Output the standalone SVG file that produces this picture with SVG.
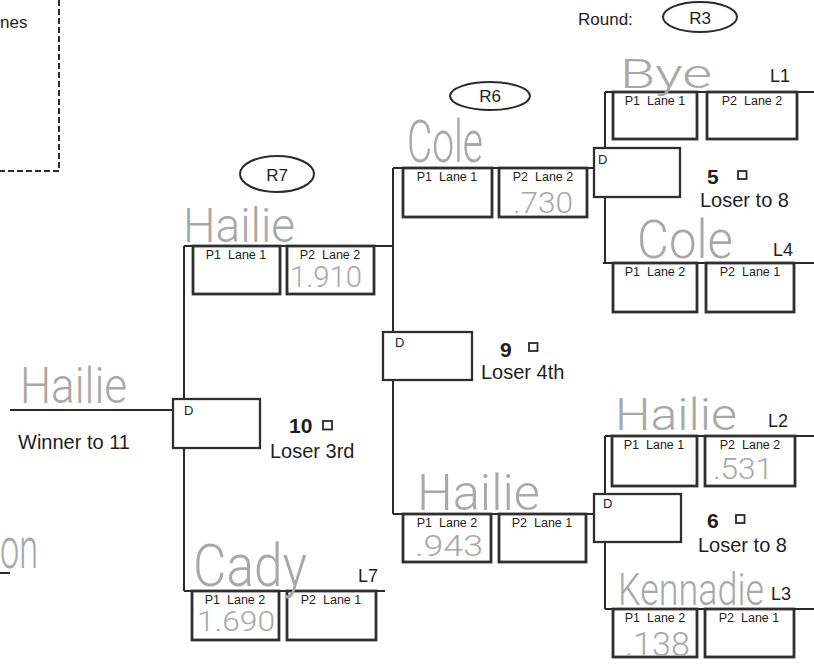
<svg xmlns="http://www.w3.org/2000/svg" width="814" height="665" viewBox="0 0 814 665">
<style>
.bg{fill:#ffffff}
.ln{stroke:#2a2a2a;stroke-width:2;fill:none}
.bx{stroke:#2f2f2f;stroke-width:2.8;fill:#ffffff}
.db{stroke:#2f2f2f;stroke-width:2.3;fill:#ffffff}
.dash{stroke:#2a2a2a;stroke-width:2;fill:none;stroke-dasharray:6 3}
.t{font-family:"Liberation Sans",Arial,sans-serif;fill:#1e1e1e}
.lab{font-size:12.5px;text-anchor:middle;white-space:pre}
.big{font-size:18px}
.mid{font-size:20px}
.num{font-size:21px;font-weight:bold}
.d{font-size:13px}
.hw{font-family:Roboto,"DejaVu Sans",sans-serif;font-weight:300;fill:#a8a8a8}
.chk{stroke:#2a2a2a;stroke-width:1.8;fill:#ffffff}
.ov{stroke:#2a2a2a;stroke-width:2;fill:none}
</style>
<rect class="bg" x="0" y="0" width="814" height="665"/>

<g id="legend">
<path class="dash" d="M59 0 V171 H0"/>
<text class="t" x="0" y="28" font-size="17">nes</text>
</g>

<g id="round-header">
<text class="t" x="578" y="25" font-size="17">Round:</text>
<ellipse class="ov" cx="700" cy="17" rx="37" ry="15"/>
<text class="t" x="700" y="24" font-size="17" text-anchor="middle">R3</text>
</g>

<g id="labels-rounds">
<ellipse class="ov" cx="490" cy="96" rx="40" ry="14"/>
<text class="t" x="490" y="102" font-size="17" text-anchor="middle">R6</text>
<ellipse class="ov" cx="277" cy="174" rx="37" ry="18"/>
<text class="t" x="277" y="181" font-size="17" text-anchor="middle">R7</text>
</g>

<g id="connectors">
<path class="ln" d="M605 92 H814"/>
<path class="ln" d="M605 92 V148 M605 197 V263"/>
<path class="ln" d="M603 263 H814"/>
<path class="ln" d="M393 168 H594"/>
<path class="ln" d="M393 168 V332 M393 380 V514"/>
<path class="ln" d="M393 514 H594"/>
<path class="ln" d="M605 436 H814"/>
<path class="ln" d="M605 436 V494 M605 542 V609"/>
<path class="ln" d="M605 609 H814"/>
<path class="ln" d="M184 246 H393"/>
<path class="ln" d="M184 246 V399 M184 448 V591"/>
<path class="ln" d="M184 591 H385"/>
<path class="ln" d="M10 410 H173"/>
<path class="ln" d="M0 573 H10" stroke-width="1.5"/>
</g>

<g id="match5">
<text class="t big" x="770" y="82">L1</text>
<rect class="bx" x="613" y="92" width="84" height="47"/>
<text class="t lab" x="655" y="105">P1  Lane 1</text>
<rect class="bx" x="707" y="92" width="90" height="47"/>
<text class="t lab" x="752" y="105">P2  Lane 2</text>
<rect class="db" x="594" y="148" width="86" height="49"/>
<text class="t d" x="598" y="164">D</text>
<text class="t num" x="707" y="184">5</text>
<rect class="chk" x="738" y="171" width="8.5" height="8"/>
<text class="t mid" x="700" y="207" font-size="21">Loser to 8</text>
<text class="t big" x="773" y="256">L4</text>
<rect class="bx" x="613" y="263" width="84" height="49"/>
<text class="t lab" x="655" y="276">P1  Lane 2</text>
<rect class="bx" x="706" y="263" width="88" height="49"/>
<text class="t lab" x="750" y="276">P2  Lane 1</text>
</g>

<g id="r6-top">
<rect class="bx" x="403" y="168" width="89" height="49"/>
<text class="t lab" x="447" y="181">P1  Lane 1</text>
<rect class="bx" x="499" y="168" width="88" height="49"/>
<text class="t lab" x="543" y="181">P2  Lane 2</text>
</g>

<g id="match9">
<rect class="db" x="383" y="332" width="89" height="48"/>
<text class="t d" x="395" y="347">D</text>
<text class="t num" x="500" y="357">9</text>
<rect class="chk" x="529" y="343" width="8.5" height="8"/>
<text class="t mid" x="481" y="379">Loser 4th</text>
</g>

<g id="r6-bottom">
<rect class="bx" x="403" y="514" width="88" height="48"/>
<text class="t lab" x="447" y="527">P1  Lane 2</text>
<rect class="bx" x="499" y="514" width="87" height="48"/>
<text class="t lab" x="542" y="527">P2  Lane 1</text>
</g>

<g id="match6">
<text class="t big" x="768" y="427">L2</text>
<rect class="bx" x="612" y="436" width="85" height="50"/>
<text class="t lab" x="654" y="449">P1  Lane 1</text>
<rect class="bx" x="705" y="436" width="90" height="50"/>
<text class="t lab" x="750" y="449">P2  Lane 2</text>
<rect class="db" x="594" y="494" width="87" height="48"/>
<text class="t d" x="603" y="508">D</text>
<text class="t num" x="707" y="528">6</text>
<rect class="chk" x="736" y="515" width="8.5" height="8"/>
<text class="t mid" x="698" y="552" font-size="21">Loser to 8</text>
<text class="t big" x="771" y="600">L3</text>
<rect class="bx" x="613" y="609" width="84" height="48"/>
<text class="t lab" x="655" y="622">P1  Lane 2</text>
<rect class="bx" x="705" y="609" width="89" height="48"/>
<text class="t lab" x="749" y="622">P2  Lane 1</text>
</g>

<g id="r7-top">
<rect class="bx" x="193" y="246" width="87" height="48"/>
<text class="t lab" x="236" y="259">P1  Lane 1</text>
<rect class="bx" x="287" y="246" width="87" height="48"/>
<text class="t lab" x="330" y="259">P2  Lane 2</text>
</g>

<g id="match10">
<rect class="db" x="173" y="399" width="87" height="49"/>
<text class="t d" x="184" y="415">D</text>
<text class="t num" x="289" y="433">10</text>
<rect class="chk" x="323" y="421" width="9" height="8.5"/>
<text class="t mid" x="270" y="458">Loser 3rd</text>
<text class="t mid" x="18" y="449" font-size="21">Winner to 11</text>
</g>

<g id="r7-bottom">
<text class="t big" x="358" y="582">L7</text>
<rect class="bx" x="192" y="591" width="87" height="49"/>
<text class="t lab" x="235" y="604">P1  Lane 2</text>
<rect class="bx" x="287" y="591" width="89" height="49"/>
<text class="t lab" x="331" y="604">P2  Lane 1</text>
</g>

<g id="handwriting">
<text class="hw" x="620" y="88" font-size="40" textLength="92" lengthAdjust="spacingAndGlyphs">Bye</text>
<text class="hw" x="407" y="162" font-size="60" textLength="76" lengthAdjust="spacingAndGlyphs">Cole</text>
<text class="hw" x="513" y="213" font-size="30" textLength="60" lengthAdjust="spacingAndGlyphs">.730</text>
<text class="hw" x="183" y="242" font-size="48" textLength="112" lengthAdjust="spacingAndGlyphs">Hailie</text>
<text class="hw" x="290" y="287" font-size="29" textLength="72" lengthAdjust="spacingAndGlyphs">1.910</text>
<text class="hw" x="637" y="258" font-size="54" textLength="96" lengthAdjust="spacingAndGlyphs">Cole</text>
<text class="hw" x="20" y="403" font-size="50" textLength="107" lengthAdjust="spacingAndGlyphs">Hailie</text>
<text class="hw" x="615" y="430" font-size="44" textLength="122" lengthAdjust="spacingAndGlyphs">Hailie</text>
<text class="hw" x="713" y="479" font-size="30" textLength="60" lengthAdjust="spacingAndGlyphs">.531</text>
<text class="hw" x="417" y="510" font-size="50" textLength="123" lengthAdjust="spacingAndGlyphs">Hailie</text>
<text class="hw" x="415" y="556" font-size="30" textLength="68" lengthAdjust="spacingAndGlyphs">.943</text>
<text class="hw" x="618" y="605" font-size="44" textLength="146" lengthAdjust="spacingAndGlyphs">Kennadie</text>
<text class="hw" x="625" y="656" font-size="34" textLength="65" lengthAdjust="spacingAndGlyphs">.138</text>
<text class="hw" x="193" y="586" font-size="60" textLength="114" lengthAdjust="spacingAndGlyphs">Cady</text>
<text class="hw" x="197" y="631" font-size="28" textLength="78" lengthAdjust="spacingAndGlyphs">1.690</text>
<text class="hw" x="0" y="568" font-size="58" textLength="38" lengthAdjust="spacingAndGlyphs">on</text>
</g>
</svg>
